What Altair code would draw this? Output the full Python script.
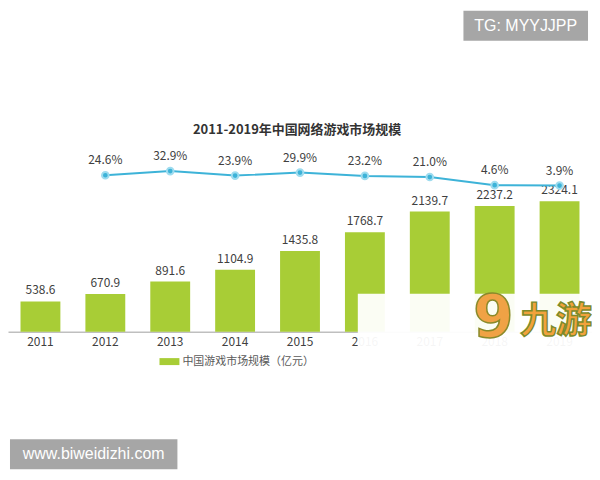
import altair as alt
import pandas as pd

# ---- data ----
years = ["2011", "2012", "2013", "2014", "2015", "2016", "2017", "2018", "2019"]
market = [538.6, 670.9, 891.6, 1104.9, 1435.8, 1768.7, 2139.7, 2237.2, 2324.1]
growth_years = ["2012", "2013", "2014", "2015", "2016", "2017", "2018", "2019"]
growth = [24.6, 32.9, 23.9, 29.9, 23.2, 21.0, 4.6, 3.9]
growth_labels = ["24.6%", "32.9%", "23.9%", "29.9%", "23.2%", "21.0%", "4.6%", "3.9%"]
series_name = "中国游戏市场规模（亿元）"
title_text = "2011-2019年中国网络游戏市场规模"
wm_top = "TG: MYYJJPP"
wm_bottom = "www.biweidizhi.com"
logo_text = "九游"

GREEN = "#a8cd36"
BLUE = "#3db3d8"
TXT = "#404040"
FONT = "Noto Sans CJK SC"

W, H = 586, 182

bars_df = pd.DataFrame({"year": years, "value": market, "series": series_name,
                        "label": [f"{v:.1f}" for v in market]})
line_df = pd.DataFrame({"year": growth_years, "g": growth, "label": growth_labels})
one = pd.DataFrame({"k": [0]})

x_enc = alt.X("year:N", sort=years,
              scale=alt.Scale(domain=years, paddingInner=0, paddingOuter=0),
              axis=alt.Axis(title=None, labelAngle=0, ticks=False, domainColor="#bfbfbf",
                            domainWidth=1.5, labelColor=TXT, labelFontSize=12, labelFont=FONT,
                            labelPadding=5))

y_bar = alt.Y("value:Q", scale=alt.Scale(domain=[0, 3229], nice=False, zero=True), axis=None)
y_line = alt.Y("g:Q", scale=alt.Scale(domain=[-289.4, 74.6], nice=False, zero=False), axis=None)

bars = alt.Chart(bars_df).mark_bar(size=40).encode(
    x=x_enc, y=y_bar,
    color=alt.Color("series:N", scale=alt.Scale(domain=[series_name], range=[GREEN]),
                    legend=alt.Legend(title=None, orient="none", legendX=152, legendY=202,
                                      padding=0, symbolType="M-1,-0.35L1,-0.35L1,0.35L-1,0.35Z",
                                      symbolSize=400, symbolStrokeWidth=0, labelFontSize=11,
                                      labelFont=FONT, labelColor="#595959", labelOffset=3)))
bar_text = alt.Chart(bars_df).mark_text(dy=-11, fontSize=12, color=TXT, font=FONT).encode(
    x=alt.X("year:N", sort=years), y=y_bar, text="label:N")

line = alt.Chart(line_df).mark_line(color=BLUE, strokeWidth=2).encode(
    x=alt.X("year:N", sort=years), y=y_line)
pts = alt.Chart(line_df).mark_point(filled=True, size=45, color=BLUE, opacity=1,
                                    stroke="#9fdcef", strokeWidth=2).encode(
    x=alt.X("year:N", sort=years), y=y_line)
pct = alt.Chart(line_df).mark_text(dy=-15, fontSize=12, color=TXT, font=FONT).encode(
    x=alt.X("year:N", sort=years), y=y_line, text="label:N")

title = alt.Chart(one).mark_text(fontSize=13, fontWeight="bold", color="#333333", font=FONT).encode(
    x=alt.value(290), y=alt.value(-20), text=alt.value(title_text))

# watermarks / logo overlay
wm1_box = alt.Chart(one).mark_rect(color="#a6a6a6").encode(
    x=alt.value(457), x2=alt.value(582), y=alt.value(-140), y2=alt.value(-110))
wm1_txt = alt.Chart(one).mark_text(fontSize=16, color="white", font="Liberation Sans").encode(
    x=alt.value(519.5), y=alt.value(-125), text=alt.value(wm_top))
wm2_box = alt.Chart(one).mark_rect(color="#a6a6a6").encode(
    x=alt.value(2), x2=alt.value(170), y=alt.value(290), y2=alt.value(320))
wm2_txt = alt.Chart(one).mark_text(fontSize=16, color="white", font="Liberation Sans").encode(
    x=alt.value(86), y=alt.value(305), text=alt.value(wm_bottom))
fade = alt.Chart(one).mark_rect(color="white", opacity=0.95).encode(
    x=alt.value(351), x2=alt.value(592), y=alt.value(144), y2=alt.value(214))
nine = alt.Chart(one).mark_text(fontSize=58, fontWeight="bold", color="#f0a245",
                                stroke="#8a8a2a", strokeWidth=1.5, font="DejaVu Sans").encode(
    x=alt.value(487), y=alt.value(170), text=alt.value("9"))
logo = alt.Chart(one).mark_text(fontSize=36, fontWeight="bold", color="#f2a23c",
                                stroke="#7d8a2a", strokeWidth=1.5, font=FONT).encode(
    x=alt.value(550), y=alt.value(172), text=alt.value(logo_text))

chart = alt.layer(
    alt.layer(bars, bar_text),
    alt.layer(line, pts, pct),
    title, fade, nine, logo, wm1_box, wm1_txt, wm2_box, wm2_txt,
).resolve_scale(y="independent").properties(
    width=W, height=H,
    autosize=alt.AutoSizeParams(type="none"),
    padding={"left": 0, "top": 142, "right": 0, "bottom": 150},
).configure_view(stroke=None)

chart.save("out.html", embed_options={"renderer": "svg", "actions": False})
